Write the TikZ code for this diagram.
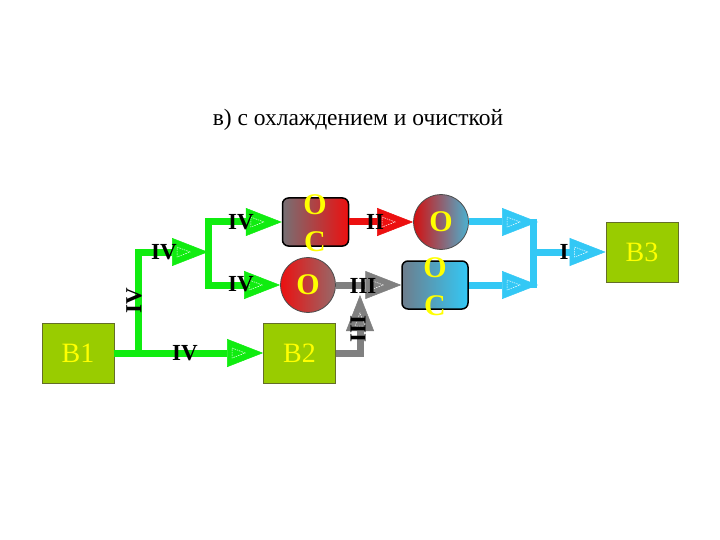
\documentclass[tikz,border=0pt]{standalone}
\usepackage{fontspec}
\setmainfont{Liberation Serif}
\usetikzlibrary{arrows.meta}
\definecolor{olv}{RGB}{153,204,0}
\definecolor{olvdark}{RGB}{100,110,40}
\definecolor{grn}{RGB}{16,236,16}
\definecolor{rd}{RGB}{236,16,16}
\definecolor{bl}{RGB}{51,200,245}
\definecolor{gr}{RGB}{128,128,128}
\definecolor{grL}{RGB}{118,112,116}
\definecolor{grB}{RGB}{110,125,140}
\definecolor{yl}{RGB}{255,255,0}
\begin{document}
\begin{tikzpicture}[x=1pt,y=-1pt,
  vbox/.style={draw=olvdark,line width=0.8pt,fill=olv,minimum width=72pt,minimum height=60pt,inner sep=0pt,text=yl,font=\fontsize{28}{30}\selectfont},
  ocbox/.style={draw=black,line width=1.5pt,rounded corners=6pt,minimum width=66pt,minimum height=48pt,inner sep=0pt},
  occirc/.style={draw=black!70,line width=0.8pt,circle,minimum size=55pt,inner sep=0pt,text=yl,font=\bfseries\fontsize{30}{32}\selectfont},
  ocletter/.style={text=yl,font=\bfseries\fontsize{30}{32}\selectfont,inner sep=0pt},
  flow/.style={line width=7pt},
  tip/.style={-{Triangle[length=36pt,width=28pt,line width=0.5pt]}},
  lbl/.style={font=\bfseries\fontsize{23}{25}\selectfont,inner sep=0pt},
  itri/.pic={\draw[white,line width=0.5pt,dash pattern=on 1.5pt off 1pt] (-31,-5) -- (-18,0) -- (-31,5) -- cycle;}
]
\useasboundingbox (0,0) rectangle (720,540);

% title
\node[font=\fontsize{23.5}{27}\selectfont] (title) at (358,120) {в) с охлаждением и очисткой};

% main boxes
\node[vbox] (b1) at (78,353) {В1};
\node[vbox] (b2) at (299.5,353) {В2};
\node[vbox] (b3) at (642,252) {В3};

% treatment units
\node[ocbox,left color=grL,right color=rd] (oc1) at (315.5,222) {};
\node[occirc,left color=rd,right color=gr!80!rd] (circ2) at (308,285) {О};
\node[occirc,left color=rd!90!black,right color=bl!70!gr] (circ1) at (441,222) {О};
\node[ocbox,left color=grB,right color=bl] (oc2) at (435,285) {};

% coordinates
\coordinate (gA) at (138,353);
\coordinate (gC) at (208,252);
\coordinate (gT) at (208,222);
\coordinate (gU) at (208,285);
\coordinate (gV) at (360,295);
\coordinate (bT) at (538,222);
\coordinate (bU) at (538,285);
\coordinate (bTop) at (533,219);
\coordinate (bBot) at (533,288);
\coordinate (bM) at (533,252);

% green
\draw[flow,grn,tip] (b1.east) -- (b2.west);
\draw[flow,grn,tip] (gA) |- (gC);
\draw[flow,grn,line cap=rect] (gT) -- (gU);
\draw[flow,grn,tip] (gT) -- (oc1.west);
\draw[flow,grn,tip] (gU) -- (circ2.west);

% red
\draw[flow,rd,tip] (oc1.east) -- (circ1.west);

% gray
\draw[flow,gr,tip] (circ2.east) -- (oc2.west);
\draw[flow,gr,tip] (b2.east) -| (gV);

% blue
\draw[flow,bl,tip] (circ1.east) -- (bT);
\draw[flow,bl,tip] (oc2.east) -- (bU);
\draw[flow,bl] (bTop) -- (bBot);
\draw[flow,bl,tip] (bM) -- (b3.west);

% inner dashed triangles
\pic at (b2.west) {itri};
\pic at (gC) {itri};
\pic at (oc1.west) {itri};
\pic at (circ2.west) {itri};
\pic at (circ1.west) {itri};
\pic at (oc2.west) {itri};
\pic[rotate=90] at (gV) {itri};
\pic at (bT) {itri};
\pic at (bU) {itri};
\pic at (b3.west) {itri};

% letters on OC boxes
\node[ocletter] (oc1o) at (315,205) {О};
\node[ocletter] (oc1c) at (315,242) {С};
\node[ocletter] (oc2o) at (435,268) {О};
\node[ocletter] (oc2c) at (435,306) {С};

% labels
\node[lbl] (l1) at (185,353) {IV};
\node[lbl,rotate=90] (l2) at (134,301) {IV};
\node[lbl] (l3) at (164,252) {IV};
\node[lbl] (l4) at (241,222) {IV};
\node[lbl] (l5) at (241,284) {IV};
\node[lbl] (l6) at (375,222) {II};
\node[lbl] (l7) at (363,286) {III};
\node[lbl,rotate=90] (l8) at (358,329) {III};
\node[lbl] (l9) at (564,252) {I};
\end{tikzpicture}
\end{document}
